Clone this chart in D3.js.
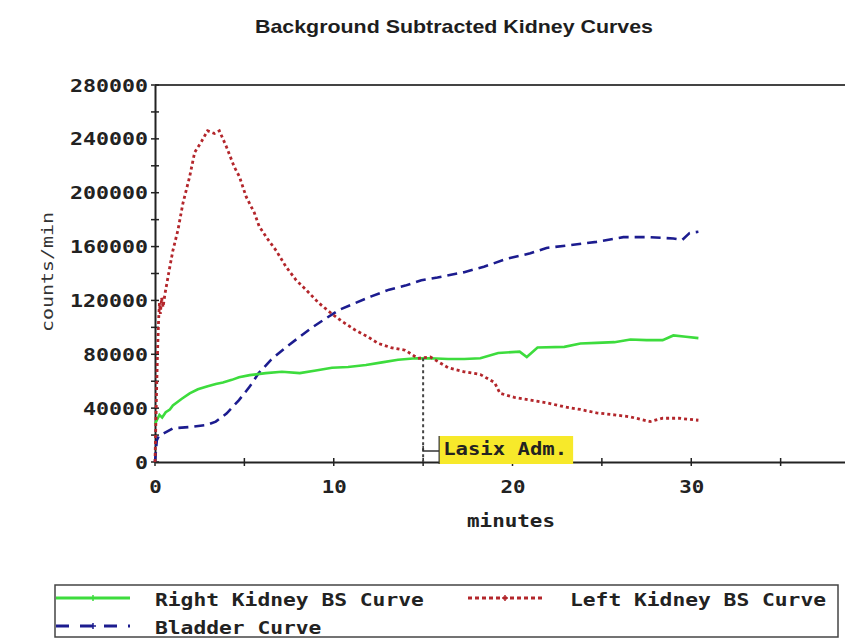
<!DOCTYPE html>
<html><head><meta charset="utf-8">
<script src="https://cdn.jsdelivr.net/npm/d3@7"></script>
<style>body{margin:0;background:#fff}svg{display:block}</style>
</head><body>
<script>
const title = "Background Subtracted Kidney Curves";
const xLabel = "minutes", yLabel = "counts/min";
const yTickLabels = [0, 40000, 80000, 120000, 160000, 200000, 240000, 280000];
const yMinorTicks = [20000, 60000, 100000, 140000, 180000, 220000, 260000];
const xTicks = [0, 5, 10, 15, 20, 25, 30, 35];
const xTickLabels = [0, 10, 20, 30];
const seriesNames = ["Right Kidney BS Curve", "Left Kidney BS Curve", "Bladder Curve"];

const greenT = [0,0.1,0.25,0.4,0.6,0.83,1.0,1.5,1.94,2.4,2.9,3.4,3.8,4.3,4.7,5.3,6.2,7.1,8.1,9.0,9.9,10.8,11.8,12.7,13.6,14.6,15.4,16.4,17.3,18.2,19.2,20.4,20.8,21.4,22.9,23.8,24.7,25.7,26.6,27.5,28.4,29.0,29.7,30.4];
const greenV = [28000,31000,35000,33000,37000,39000,42000,47000,51000,54000,56000,58000,59000,61000,63000,64500,66000,67000,66000,68000,70000,70500,72000,74000,76000,77000,77000,76500,76500,77000,81000,82000,78000,85000,85500,88000,88500,89000,91000,90500,90500,94000,93000,92000];

const redT = [0,0.05,0.1,0.15,0.2,0.25,0.3,0.37,0.45,0.56,0.83,1.0,1.28,1.56,1.94,2.22,2.6,2.94,3.33,3.6,4.0,4.44,4.72,5.1,5.56,5.83,6.28,6.78,7.33,7.9,8.44,9.17,9.9,10.4,11.2,11.9,12.5,13.2,14.0,14.7,15.4,16.4,17.3,18.2,19.0,19.3,20.1,21.0,21.9,22.9,23.8,24.7,25.7,26.6,27.7,28.4,29.3,30.4];
const redV = [0,30000,60000,85000,105000,118000,110000,122000,115000,125000,145000,157000,172000,192000,212000,230000,238000,246000,244000,246000,234000,219000,212000,197000,185000,175000,166000,157000,145000,135000,128000,118000,110000,105000,98000,93000,88000,85000,83000,77000,78000,70000,67000,65000,59000,51000,48000,46000,44000,41000,39000,36500,35000,33500,30000,32500,32500,31000];

const blueT = [0,0.05,0.1,0.2,0.45,1.0,1.94,2.9,3.4,4.0,4.7,5.3,5.8,6.5,7.3,8.1,8.8,9.6,10.3,11.2,12.1,13.1,14.0,14.9,15.8,17.3,18.4,19.7,21.0,21.9,23.2,24.7,26.2,27.7,29.0,29.5,29.9,30.4];
const blueV = [0,8000,16000,19000,21000,25000,26000,27500,30000,36000,46000,56000,66000,76000,85000,93000,100000,107000,113000,118000,123000,128000,131000,135000,137000,141000,145000,151000,155000,159000,161000,163500,167000,167000,166000,165000,170000,171000];

const lasixTime = 15, lasixValue = 77000, lasixText = "Lasix Adm.";

const W = 845, H = 639;
const svg = d3.select("body").append("svg").attr("width", W).attr("height", H);
const x = d3.scaleLinear().domain([0, 40]).range([155, 870]);
const y = d3.scaleLinear().domain([0, 280000]).range([462, 85]);
const mono = "'DejaVu Sans Mono','Liberation Mono',monospace";

// title
svg.append("text").attr("x", 454).attr("y", 33).attr("text-anchor", "middle")
  .attr("font-family", "'Liberation Sans',Arial,sans-serif")
  .attr("font-weight", "bold").attr("font-size", 19).attr("fill", "#1e1e1e")
  .attr("textLength", 398).attr("lengthAdjust", "spacingAndGlyphs").text(title);

// frame: top border
svg.append("line").attr("x1", x(0)).attr("x2", W).attr("y1", y(280000)).attr("y2", y(280000))
  .attr("stroke", "#444").attr("stroke-width", 2);

// axes
const yAxis = d3.axisLeft(y).tickValues(yTickLabels).tickSize(0).tickFormat(d3.format("d")).tickPadding(7);
const gy = svg.append("g").attr("transform", `translate(${x(0)},0)`).call(yAxis);
gy.select(".domain").attr("stroke", "#222").attr("stroke-width", 2);
gy.selectAll("text").attr("font-family", mono).attr("font-weight", "bold").attr("font-size", 17)
  .attr("fill", "#222").attr("dy", "0.36em")
  .each(function(d){ const s = String(d); d3.select(this).attr("textLength", s.length * 13).attr("lengthAdjust","spacingAndGlyphs"); });
svg.append("g").selectAll("line").data(yTickLabels.concat(yMinorTicks)).join("line")
  .attr("x1", x(0) - 4).attr("x2", x(0) + 4).attr("y1", d => y(d)).attr("y2", d => y(d))
  .attr("stroke", "#222").attr("stroke-width", 1.5);

const xAxis = d3.axisBottom(x).tickValues(xTickLabels).tickSize(0).tickFormat(d3.format("d")).tickPadding(19);
const gx = svg.append("g").attr("transform", `translate(0,${y(0)})`).call(xAxis);
gx.select(".domain").attr("stroke", "#222").attr("stroke-width", 2);
gx.selectAll("text").attr("font-family", mono).attr("font-weight", "bold").attr("font-size", 17)
  .attr("fill", "#222")
  .each(function(d){ const s = String(d); d3.select(this).attr("textLength", s.length * 12.5).attr("lengthAdjust","spacingAndGlyphs"); });
svg.append("g").selectAll("line").data(xTicks).join("line")
  .attr("x1", d => x(d)).attr("x2", d => x(d)).attr("y1", y(0) - 4).attr("y2", y(0) + 4)
  .attr("stroke", "#222").attr("stroke-width", 1.5);

// axis titles
svg.append("text").attr("x", 511).attr("y", 527).attr("text-anchor", "middle")
  .attr("font-family", mono).attr("font-weight", "bold").attr("font-size", 17).attr("fill", "#222")
  .attr("textLength", 88).attr("lengthAdjust", "spacingAndGlyphs").text(xLabel);
svg.append("text").attr("transform", "translate(53,272) rotate(-90)").attr("text-anchor", "middle")
  .attr("font-family", mono).attr("font-size", 15).attr("fill", "#333")
  .attr("textLength", 120).attr("lengthAdjust", "spacingAndGlyphs").text(yLabel);

// series
const line = d3.line().x(d => x(d[0])).y(d => y(d[1]));
const zip = (t, v) => t.map((d, i) => [d, v[i]]);
const styles = [
  {data: zip(greenT, greenV), color: "#3ddc3d", dash: null, w: 2.6},
  {data: zip(redT, redV), color: "#b3262b", dash: "3,3", w: 2.8},
  {data: zip(blueT, blueV), color: "#1c1c8f", dash: "10,6", w: 2.6}
];
[2, 0, 1].forEach(i => {
  const s = styles[i];
  svg.append("path").datum(s.data).attr("d", line).attr("fill", "none")
    .attr("stroke", s.color).attr("stroke-width", s.w)
    .attr("stroke-dasharray", s.dash);
});

// Lasix marker
svg.append("line").attr("x1", x(lasixTime)).attr("x2", x(lasixTime)).attr("y1", y(lasixValue)).attr("y2", y(0))
  .attr("stroke", "#444").attr("stroke-width", 2).attr("stroke-dasharray", "3,3");
svg.append("path").attr("d", `M${x(lasixTime)},${y(0)-16}V${y(0)-11}H${x(lasixTime)+16}`)
  .attr("fill", "none").attr("stroke", "#333").attr("stroke-width", 1.5);
svg.append("rect").attr("x", x(lasixTime) + 16).attr("y", y(0) - 26).attr("width", 134).attr("height", 28)
  .attr("fill", "#f7e92a");
svg.append("line").attr("x1", x(lasixTime) + 16).attr("x2", x(lasixTime) + 16).attr("y1", y(0) - 26).attr("y2", y(0) + 2)
  .attr("stroke", "#333").attr("stroke-width", 1.2);
svg.append("text").attr("x", x(lasixTime) + 20).attr("y", y(0) - 7)
  .attr("font-family", mono).attr("font-weight", "bold").attr("font-size", 17).attr("fill", "#222")
  .attr("textLength", 124).attr("lengthAdjust", "spacingAndGlyphs").text(lasixText);

// legend
svg.append("rect").attr("x", 55).attr("y", 585).attr("width", 783).attr("height", 52)
  .attr("fill", "#fff").attr("stroke", "#444").attr("stroke-width", 1.5);
const legendPos = [[56, 598, 155], [468, 598, 570], [56, 626, 155]];
const legendLen = [21 * 12.8, 20 * 12.8, 13 * 12.8];
const legendDash = [null, "4,3", "13,11"];
legendPos.forEach((p, i) => {
  const s = styles[i];
  svg.append("line").attr("x1", p[0]).attr("x2", p[0] + 74).attr("y1", p[1]).attr("y2", p[1])
    .attr("stroke", s.color).attr("stroke-width", 3).attr("stroke-dasharray", legendDash[i]);
  // small point marker at the middle of the sample
  svg.append("path").attr("d", `M${p[0]+37},${p[1]-3}V${p[1]+3}M${p[0]+34},${p[1]}H${p[0]+40}`)
    .attr("stroke", s.color).attr("stroke-width", 1.5);
  svg.append("text").attr("x", p[2]).attr("y", p[1] + 8)
    .attr("font-family", mono).attr("font-weight", "bold").attr("font-size", 17).attr("fill", "#222")
    .attr("textLength", legendLen[i]).attr("lengthAdjust", "spacingAndGlyphs").text(seriesNames[i]);
});
</script>
</body></html>
